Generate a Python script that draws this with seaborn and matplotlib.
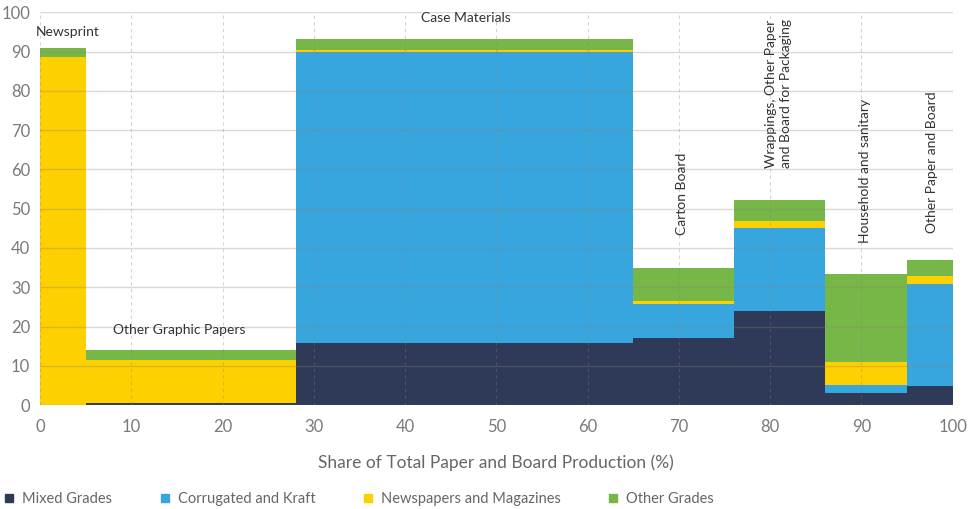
import numpy as np
import pandas as pd
import matplotlib
matplotlib.use("Agg")
import matplotlib.pyplot as plt
import seaborn as sns
from matplotlib.lines import Line2D

# ---- data ----
categories = ["Newsprint", "Other Graphic Papers", "Case Materials", "Carton Board",
              "Wrappings, Other Paper\nand Board for Packaging",
              "Household and sanitary", "Other Paper and Board"]
shares = [5, 23, 37, 11, 10, 9, 5]  # share of total production (%) -> bar widths
mixed_grades = [0.0, 0.5, 15.7, 17.2, 23.9, 3.1, 4.9]
corrugated_kraft = [0.0, 0.0, 74.2, 8.5, 21.1, 2.0, 25.9]
newspapers_magazines = [88.5, 11.0, 0.4, 0.8, 1.9, 5.9, 2.0]
other_grades = [2.5, 2.5, 3.0, 8.3, 5.3, 22.5, 4.1]

grades = ["Mixed Grades", "Corrugated and Kraft", "Newspapers and Magazines", "Other Grades"]
colors = ["#2f3a58", "#38a6de", "#fdd000", "#76b748"]

edges = [0.0] + [float(v) for v in np.cumsum(shares)]
mids = [(a + b) / 2 for a, b in zip(edges[:-1], edges[1:])]
rows = []
for g, vals in zip(grades, [mixed_grades, corrugated_kraft, newspapers_magazines, other_grades]):
    for c, m, v in zip(categories, mids, vals):
        rows.append(dict(category=c, x=m, grade=g, value=v))
df = pd.DataFrame(rows)

sns.set_theme(style="white")
plt.rcParams["font.family"] = ["Lato", "DejaVu Sans"]

fig = plt.figure(figsize=(9.76, 5.09), dpi=100)
ax = fig.add_axes([0.041, 0.204, 0.935, 0.772])

sns.histplot(data=df, x="x", weights="value", hue="grade", hue_order=grades[::-1],
             palette=dict(zip(grades, colors)), bins=edges, multiple="stack",
             stat="count", element="bars", alpha=1, linewidth=0, legend=False, ax=ax)

ax.set_xlim(0, 100)
ax.set_ylim(0, 100)
ax.set_xticks(range(0, 101, 10))
ax.set_yticks(range(0, 101, 10))
ax.set_ylabel("")
ax.set_xlabel("Share of Total Paper and Board Production (%)", fontsize=12.5,
              color="#666666", labelpad=14)
for s in ax.spines.values():
    s.set_visible(False)

ax.set_axisbelow(False)
ax.yaxis.grid(True, color="#8c8272", alpha=0.3, lw=1)
ax.xaxis.grid(True, color="#8c8272", alpha=0.35, lw=0.8, ls=(0, (3, 3)))
ax.tick_params(axis="y", length=0, labelsize=12, labelcolor="#7a7a7a", pad=7)
ax.tick_params(axis="x", length=4, color="#cccccc", labelsize=12, labelcolor="#7a7a7a", pad=6)

ann_kw = dict(fontsize=10, color="#333333")
ax.text(3, 94.9, categories[0], ha="center", va="center", **ann_kw)
ax.text(15.3, 19.1, categories[1], ha="center", va="center", **ann_kw)
ax.text(46.7, 98.5, categories[2], ha="center", va="center", **ann_kw)
ax.text(70.4, 43.3, categories[3], ha="center", va="bottom", rotation=90, **ann_kw)
ax.text(80.9, 60.3, categories[4], ha="center", va="bottom", rotation=90,
        multialignment="left", linespacing=1.3, **ann_kw)
ax.text(90.4, 41.2, categories[5], ha="center", va="bottom", rotation=90, **ann_kw)
ax.text(97.7, 43.8, categories[6], ha="center", va="bottom", rotation=90, **ann_kw)

handles = [Line2D([], [], marker="s", linestyle="", markersize=6, color=c) for c in colors]
leg = fig.legend(handles, grades, loc="lower left", bbox_to_anchor=(-0.008, -0.018), ncol=4,
                 frameon=False, fontsize=10.5, handlelength=0.7, handletextpad=0.55,
                 columnspacing=3.25, borderaxespad=0.4)
for t in leg.get_texts():
    t.set_color("#666666")

fig.savefig("out.png", dpi=100)
